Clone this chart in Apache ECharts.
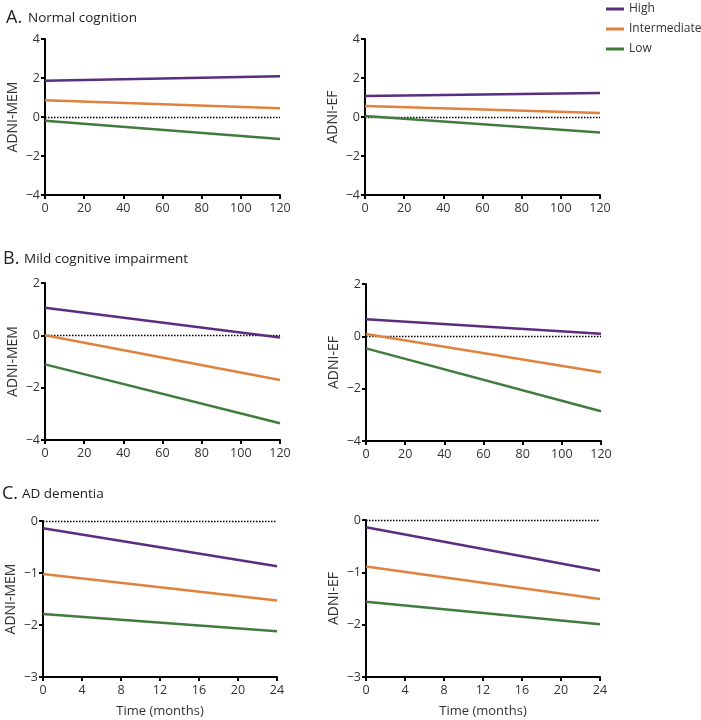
<!DOCTYPE html>
<html><head><meta charset="utf-8">
<script src="https://cdn.jsdelivr.net/npm/echarts@6/dist/echarts.min.js"></script>
<style>html,body{margin:0;padding:0;background:#fff}#c{width:701px;height:720px}</style>
</head><body><div id="c"></div>
<script>
// ---- data ----
var groups = ['High', 'Intermediate', 'Low'];
var monthsLong = [0, 120];
var monthsShort = [0, 24];
var xTicksLong = [0, 20, 40, 60, 80, 100, 120];
var xTicksShort = [0, 4, 8, 12, 16, 20, 24];
var yTicksAB = [-4, -2, 0, 2, 4];
var yTicksB = [-4, -2, 0, 2];
var yTicksC = [-3, -2, -1, 0];

var A_MEM_High = [1.86, 2.09], A_MEM_Int = [0.86, 0.45], A_MEM_Low = [-0.19, -1.13];
var A_EF_High = [1.08, 1.23], A_EF_Int = [0.56, 0.20], A_EF_Low = [0.05, -0.80];
var B_MEM_High = [1.05, -0.08], B_MEM_Int = [0.00, -1.71], B_MEM_Low = [-1.11, -3.36];
var B_EF_High = [0.65, 0.10], B_EF_Int = [0.09, -1.37], B_EF_Low = [-0.46, -2.86];
var C_MEM_High = [-0.14, -0.87], C_MEM_Int = [-1.02, -1.53], C_MEM_Low = [-1.79, -2.12];
var C_EF_High = [-0.14, -0.97], C_EF_Int = [-0.89, -1.51], C_EF_Low = [-1.56, -1.99];

var colors = {High: '#5c2d7e', Intermediate: '#e0823d', Low: '#417b3d'};
var FONT = '"Open Sans", sans-serif';

var panels = [
  {grid: {left: 45, top: 39, width: 235, height: 156}, x: monthsLong, xt: xTicksLong, yt: yTicksAB, yname: 'ADNI-MEM', vals: [A_MEM_High, A_MEM_Int, A_MEM_Low], xname: ''},
  {grid: {left: 365, top: 39, width: 235, height: 156}, x: monthsLong, xt: xTicksLong, yt: yTicksAB, yname: 'ADNI-EF', vals: [A_EF_High, A_EF_Int, A_EF_Low], xname: ''},
  {grid: {left: 45, top: 283, width: 235, height: 157}, x: monthsLong, xt: xTicksLong, yt: yTicksB, yname: 'ADNI-MEM', vals: [B_MEM_High, B_MEM_Int, B_MEM_Low], xname: ''},
  {grid: {left: 366, top: 284, width: 235, height: 157}, x: monthsLong, xt: xTicksLong, yt: yTicksB, yname: 'ADNI-EF', vals: [B_EF_High, B_EF_Int, B_EF_Low], xname: ''},
  {grid: {left: 43, top: 521, width: 234, height: 156}, x: monthsShort, xt: xTicksShort, yt: yTicksC, yname: 'ADNI-MEM', vals: [C_MEM_High, C_MEM_Int, C_MEM_Low], xname: 'Time (months)'},
  {grid: {left: 366, top: 520, width: 234, height: 157}, x: monthsShort, xt: xTicksShort, yt: yTicksC, yname: 'ADNI-EF', vals: [C_EF_High, C_EF_Int, C_EF_Low], xname: 'Time (months)'}
];

var grids = [], xAxes = [], yAxes = [], series = [];
var axisLine = {show: true, onZero: false, lineStyle: {color: '#000', width: 2}};
var axisTick = {show: true, inside: false, length: 4, lineStyle: {color: '#000', width: 2}};
var axisLabel = {color: '#333', fontSize: 12.5, fontFamily: FONT};

panels.forEach(function (p, i) {
  grids.push(p.grid);
  var xt = p.xt;
  xAxes.push({
    type: 'value', gridIndex: i, min: xt[0], max: xt[xt.length - 1], interval: xt[1] - xt[0],
    axisLine: axisLine, axisTick: axisTick, splitLine: {show: false},
    axisLabel: Object.assign({margin: 7}, axisLabel),
    name: p.xname, nameLocation: 'middle', nameGap: 28,
    nameTextStyle: {color: '#333', fontSize: 13, fontFamily: FONT}
  });
  var yt = p.yt;
  yAxes.push({
    type: 'value', gridIndex: i, min: yt[0], max: yt[yt.length - 1], interval: yt[1] - yt[0],
    axisLine: axisLine, axisTick: axisTick, splitLine: {show: false},
    axisLabel: Object.assign({margin: 5, formatter: function (v) { return v < 0 ? '\u2212' + Math.abs(v) : String(v); }}, axisLabel),
    name: p.yname, nameLocation: 'middle', nameRotate: 90, nameGap: 25,
    nameTextStyle: {color: '#333', fontSize: 14, fontFamily: FONT}
  });
  groups.forEach(function (g, k) {
    var s = {
      type: 'line', name: g, xAxisIndex: i, yAxisIndex: i, symbol: 'none', silent: true,
      data: p.x.map(function (m, j) { return [m, p.vals[k][j]]; }),
      lineStyle: {color: colors[g], width: 2.5}, itemStyle: {color: colors[g]}, z: 3
    };
    if (k === 0) {
      s.markLine = {
        silent: true, symbol: 'none', label: {show: false}, z: 1,
        lineStyle: {color: '#000', type: [1.5, 1.5], width: 1.3},
        data: [[{coord: [p.x[0], 0]}, {coord: [p.x[1], 0]}]]
      };
    }
    series.push(s);
  });
});

var chart = echarts.init(document.getElementById('c'), null, {renderer: 'canvas'});
chart.setOption({
  animation: false,
  backgroundColor: '#fff',
  legend: {
    data: groups, orient: 'vertical', left: 606, top: 3, padding: 0, itemWidth: 18, itemHeight: 3,
    icon: 'rect', itemGap: 8, textStyle: {color: '#333', fontSize: 12, fontFamily: FONT}
  },
  grid: grids, xAxis: xAxes, yAxis: yAxes, series: series,
  graphic: [
    {type: 'text', left: 6, top: 9, style: {text: 'A.', font: '18px ' + FONT, fill: '#222'}},
    {type: 'text', left: 28, top: 11, style: {text: 'Normal cognition', font: '13.5px ' + FONT, fill: '#222'}},
    {type: 'text', left: 3, top: 250, style: {text: 'B.', font: '18px ' + FONT, fill: '#222'}},
    {type: 'text', left: 24, top: 252, style: {text: 'Mild cognitive impairment', font: '13.5px ' + FONT, fill: '#222'}},
    {type: 'text', left: 2, top: 485, style: {text: 'C.', font: '18px ' + FONT, fill: '#222'}},
    {type: 'text', left: 22, top: 487, style: {text: 'AD dementia', font: '13.5px ' + FONT, fill: '#222'}}
  ]
});
</script></body></html>
